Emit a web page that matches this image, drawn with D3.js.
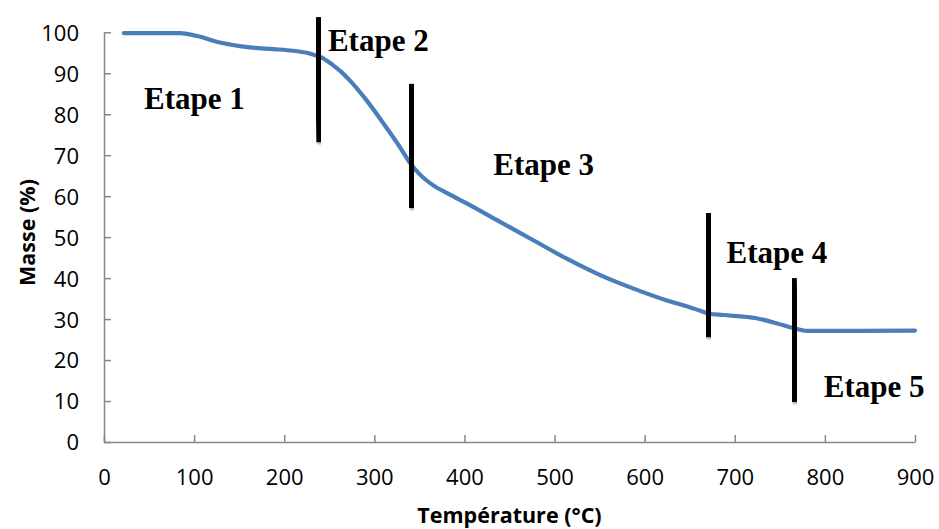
<!DOCTYPE html>
<html>
<head>
<meta charset="utf-8">
<script src="https://cdn.jsdelivr.net/npm/d3@7"></script>
<style>
  html, body { margin: 0; padding: 0; background: #fff; }
  svg { display: block; }
</style>
</head>
<body>
<svg id="chart" width="939" height="529"></svg>
<script>
// ---- data ----
const temperature = [22, 85, 92, 107, 125, 143, 162, 188, 210, 225, 236, 240, 254, 263, 273, 291, 310, 328, 340, 351, 365, 383, 402, 439, 476, 513, 550, 587, 624, 650, 661, 672, 687, 724, 746, 765, 780, 817, 900];
const masse = [99.8, 99.8, 99.6, 98.9, 97.7, 96.9, 96.3, 95.9, 95.5, 95.0, 94.3, 94.0, 92.0, 90.4, 88.2, 83.5, 77.8, 72.1, 68.0, 65.2, 62.7, 60.5, 58.3, 53.8, 49.3, 44.8, 40.8, 37.5, 34.6, 32.9, 32.1, 31.3, 31.0, 30.2, 29.0, 27.8, 27.1, 27.1, 27.2];

const xTicks = [0, 100, 200, 300, 400, 500, 600, 700, 800, 900];
const yTicks = [0, 10, 20, 30, 40, 50, 60, 70, 80, 90, 100];

// stage separators (temperature at top / bottom, mass range)
const sepTempTop = [237.4, 340.2, 670.0, 764.9];
const sepTempBottom = [239.6, 342.3, 671.7, 767.3];
const sepMassTop = [103.7, 87.4, 55.9, 40.0];
const sepMassBottom = [73.2, 57.1, 25.6, 9.8];

// stage labels (anchor in data units)
const stageLabels = ["Etape 1", "Etape 2", "Etape 3", "Etape 4", "Etape 5"];
const stageTemp = [44.4, 248.5, 432.1, 690.8, 798.8];
const stageMass = [81.3, 95.4, 65.2, 43.7, 11.0];

const xTitle = "Température (°C)";
const yTitle = "Masse (%)";

// ---- drawing ----
const svg = d3.select("#chart");
const x = d3.scaleLinear().domain([0, 900]).range([104, 915]);
const y = d3.scaleLinear().domain([0, 100]).range([442, 32.3]);

const defs = svg.append("defs");
const f = defs.append("filter").attr("id", "shadow").attr("x", "-50%").attr("y", "-10%").attr("width", "200%").attr("height", "120%");
f.append("feDropShadow").attr("dx", 1).attr("dy", 2).attr("stdDeviation", 1.2).attr("flood-color", "#000").attr("flood-opacity", 0.35);

const axisColor = "#878787";
const tickFont = "'Open Sans', 'Noto Sans', sans-serif";

// X axis
const xAxis = svg.append("g").attr("transform", `translate(0,${y(0)})`)
  .call(d3.axisBottom(x).tickValues(xTicks).tickSize(-7).tickPadding(0).tickSizeOuter(0).tickFormat(d3.format("d")));
xAxis.select(".domain").attr("stroke", axisColor).attr("stroke-width", 1.5);
xAxis.selectAll(".tick line").attr("stroke", axisColor).attr("stroke-width", 1.5);
xAxis.selectAll(".tick text").attr("fill", "#000").attr("font-family", tickFont).attr("font-size", 22)
  .attr("y", 0).attr("dy", 0).attr("transform", "translate(0,43)");

// Y axis
const yAxis = svg.append("g").attr("transform", `translate(${x(0)},0)`)
  .call(d3.axisLeft(y).tickValues(yTicks).tickSize(-7).tickPadding(0).tickSizeOuter(0).tickFormat(d3.format("d")));
yAxis.select(".domain").attr("stroke", axisColor).attr("stroke-width", 1.5);
yAxis.selectAll(".tick line").attr("stroke", axisColor).attr("stroke-width", 1.5);
yAxis.selectAll(".tick text").attr("fill", "#000").attr("font-family", tickFont).attr("font-size", 22)
  .attr("x", -25).attr("dy", "0.36em");

// Curve
const pts = temperature.map((t, i) => [t, masse[i]]);
svg.append("path")
  .datum(pts)
  .attr("fill", "none")
  .attr("stroke", "#4A7EBB")
  .attr("stroke-width", 4.2)
  .attr("stroke-linecap", "round")
  .attr("stroke-linejoin", "round")
  .attr("d", d3.line().x(d => x(d[0])).y(d => y(d[1])).curve(d3.curveMonotoneX));

// Separators
svg.append("g").selectAll("line")
  .data(sepTempTop.map((t, i) => i))
  .join("line")
  .attr("x1", i => x(sepTempTop[i]))
  .attr("x2", i => x(sepTempBottom[i]))
  .attr("y1", i => y(sepMassTop[i]))
  .attr("y2", i => y(sepMassBottom[i]))
  .attr("stroke", "#000")
  .attr("stroke-width", 7)
  .attr("filter", "url(#shadow)");

// Stage labels
svg.append("g").selectAll("text")
  .data(stageLabels.map((s, i) => i))
  .join("text")
  .attr("x", i => x(stageTemp[i]))
  .attr("y", i => y(stageMass[i]))
  .attr("font-family", "'Liberation Serif', 'Times New Roman', serif")
  .attr("font-weight", "bold")
  .attr("font-size", 31)
  .attr("fill", "#000")
  .text(i => stageLabels[i]);

// Axis titles
svg.append("text")
  .attr("x", 509.5).attr("y", 523)
  .attr("text-anchor", "middle")
  .attr("font-family", tickFont).attr("font-weight", "bold").attr("font-size", 21.5)
  .attr("fill", "#000")
  .text(xTitle);

svg.append("text")
  .attr("transform", "translate(35,232.5) rotate(-90)")
  .attr("text-anchor", "middle")
  .attr("font-family", tickFont).attr("font-weight", "bold").attr("font-size", 21.5)
  .attr("fill", "#000")
  .text(yTitle);
</script>
</body>
</html>
